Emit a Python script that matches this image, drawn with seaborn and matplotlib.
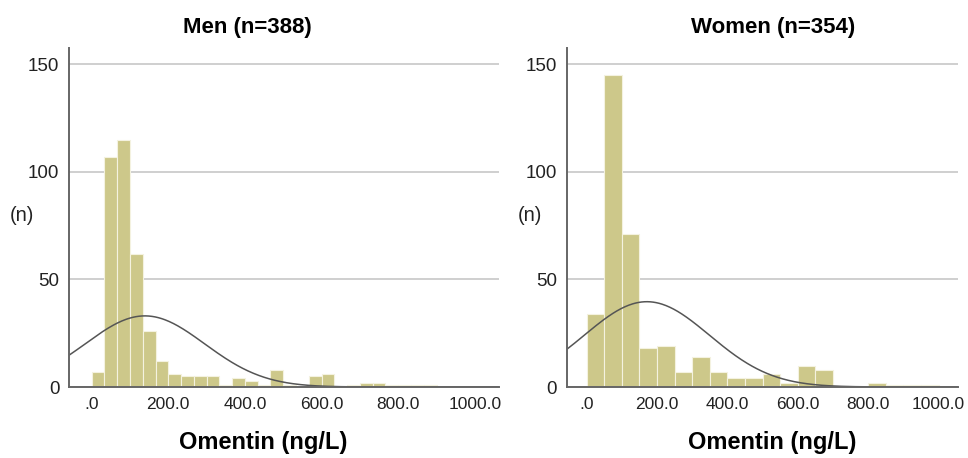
import matplotlib
matplotlib.use('Agg')
import matplotlib.pyplot as plt
import numpy as np
import pandas as pd
import seaborn as sns

# men: 30 bins of width 33.33 from 0 to 1000
men_edges = list(np.linspace(0, 1000, 31))
men_counts = [7, 107, 115, 62, 26, 12, 6, 5, 5, 5,
              1, 4, 3, 1, 8, 1, 0, 5, 6, 0,
              1, 2, 2, 1, 1, 1, 1, 0, 0, 0]
men_mean, men_sd = 139, 156

# women: 20 bins of width 50 from 0 to 1000
women_edges = list(np.linspace(0, 1000, 21))
women_counts = [34, 145, 71, 18, 19, 7, 14, 7, 4, 4,
                6, 2, 10, 8, 0, 0, 2, 1, 1, 1]
women_mean, women_sd = 171, 178

tick_vals = [0, 200, 400, 600, 800, 1000]
tick_labels = ['.0', '200.0', '400.0', '600.0', '800.0', '1000.0']

sns.set_style('white')
plt.rcParams['font.family'] = ['Liberation Sans', 'DejaVu Sans']

fig = plt.figure(figsize=(9.68, 4.58), dpi=100)
ax1 = fig.add_axes([0.0713, 0.155, 0.4442, 0.740])
ax2 = fig.add_axes([0.5857, 0.155, 0.4040, 0.740])

# (axes, edges, counts, mean, sd, title, xlim, ylabel x, title x, xlabel x)
panels = [
    (ax1, men_edges, men_counts, men_mean, men_sd, 'Men (n=388)', (-59, 1063), -0.109, 0.414, 0.451),
    (ax2, women_edges, women_counts, women_mean, women_sd, 'Women (n=354)', (-56, 1055), -0.095, 0.527, 0.524),
]

for ax, edges, counts, mu, sd, title, xlim, ylab_x, title_x, xlab_x in panels:
    e = np.array(edges)
    df = pd.DataFrame({'omentin': (e[:-1] + e[1:]) / 2, 'n': counts})
    sns.histplot(data=df, x='omentin', weights='n', bins=edges, ax=ax,
                 color='#cdc88a', alpha=1, edgecolor='#f4f2e0', linewidth=0.8)
    # fitted normal curve, scaled to counts per bin
    n = sum(counts)
    bw = e[1] - e[0]
    xs = np.linspace(xlim[0], xlim[1], 400)
    ys = n * bw * np.exp(-0.5 * ((xs - mu) / sd) ** 2) / (sd * np.sqrt(2 * np.pi))
    sns.lineplot(x=xs, y=ys, ax=ax, color='#555555', linewidth=1.1)

    ax.set_xlim(*xlim)
    ax.set_ylim(0, 157.6)
    ax.set_yticks([0, 50, 100, 150])
    ax.set_xticks(tick_vals)
    ax.set_xticklabels(tick_labels)
    ax.tick_params(axis='both', length=0, colors='#222222', pad=7)
    ax.tick_params(axis='x', labelsize=12.5)
    ax.tick_params(axis='y', labelsize=13.5)
    ax.set_axisbelow(True)
    ax.yaxis.grid(True, color='#cfcfcf', linewidth=1.4)
    ax.xaxis.grid(False)
    for s in ['top', 'right']:
        ax.spines[s].set_visible(False)
    for s in ['left', 'bottom']:
        ax.spines[s].set_color('#666666')
        ax.spines[s].set_linewidth(1.4)

    ax.set_title(title, fontsize=16, fontweight='bold', color='black', x=title_x, y=1.0, pad=11)
    ax.set_xlabel('Omentin (ng/L)', fontsize=17, fontweight='bold', color='black', va='center')
    ax.xaxis.set_label_coords(xlab_x, -0.165)
    ax.set_ylabel('(n)', rotation=0, fontsize=14.5, color='#222222', va='center', ha='center')
    ax.yaxis.set_label_coords(ylab_x, 0.507)

fig.savefig('out.png', dpi=100)
